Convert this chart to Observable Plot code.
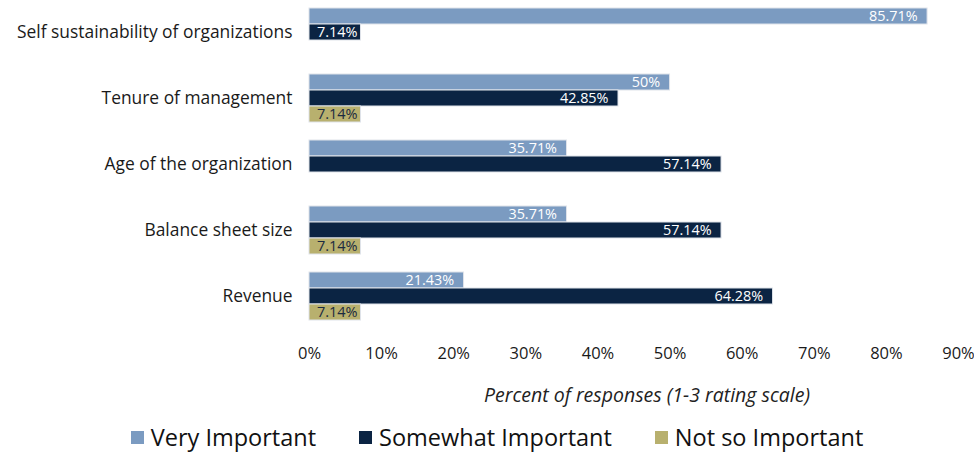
<!DOCTYPE html>
<html>
<head>
<meta charset="utf-8">
<script src="https://cdn.jsdelivr.net/npm/d3@7"></script>
<script src="https://cdn.jsdelivr.net/npm/@observablehq/plot@0.6"></script>
<style>
  html, body { margin: 0; padding: 0; background: #fff; }
  body { width: 974px; height: 452px; overflow: hidden; font-family: "Open Sans", sans-serif; color: #1a1a1a; }
  #axis-title { font-style: italic; font-size: 19.5px; line-height: 26px; height: 26px; padding-left: 320px; text-align: center; color: #222; margin-top: 10px; }
  #legend { display: flex; justify-content: center; align-items: center; gap: 43px; font-size: 23.5px; line-height: 30px; margin-top: 14px; padding-left: 20px; color: #111; }
  #legend .item { display: flex; align-items: center; }
  #legend .sw { width: 13px; height: 13px; margin-right: 7px; display: inline-block; }
</style>
</head>
<body>
<div id="chart"></div>
<div id="axis-title"></div>
<div id="legend"></div>
<script>
const categories = [
  "Self sustainability of organizations",
  "Tenure of management",
  "Age of the organization",
  "Balance sheet size",
  "Revenue"
];
const seriesNames = ["Very Important", "Somewhat Important", "Not so Important"];
const seriesColors = ["#7b9bc1", "#0b2443", "#b8b06e"];
const veryImportant = [85.71, 50, 35.71, 35.71, 21.43];
const somewhatImportant = [7.14, 42.85, 57.14, 57.14, 64.28];
const notSoImportant = [null, 7.14, null, 7.14, 7.14];
const xTicks = [0, 10, 20, 30, 40, 50, 60, 70, 80, 90];
const axisTitle = "Percent of responses (1-3 rating scale)";

const seriesValues = [veryImportant, somewhatImportant, notSoImportant];
const rows = [];
categories.forEach((c, i) => {
  seriesNames.forEach((s, j) => {
    const v = seriesValues[j][i];
    if (v != null) rows.push({category: c, series: s, value: v});
  });
});
const fmt = d => d.value + "%";

const chart = Plot.plot({
  width: 974,
  height: 372,
  marginLeft: 309,
  marginRight: 16,
  marginTop: 5,
  marginBottom: 49,
  style: {fontFamily: "'Open Sans', sans-serif", color: "#1a1a1a", background: "#fff"},
  x: {domain: [0, 90], axis: null},
  fy: {domain: categories, paddingInner: 0.236, paddingOuter: 0, axis: null},
  y: {domain: seriesNames, padding: 0, axis: null},
  color: {domain: seriesNames, range: seriesColors},
  marks: [
    Plot.axisFy({anchor: "left", tickSize: 0, tickPadding: 17, fontSize: 17.4, label: null}),
    Plot.axisX({anchor: "bottom", ticks: xTicks, tickFormat: d => d + "%", tickSize: 0, tickPadding: 26, fontSize: 16.5, label: null}),
    Plot.barX(rows, {fy: "category", y: "series", x: "value", fill: "series", stroke: "#dfe3ea", strokeWidth: 1}),
    Plot.text(rows.filter(d => d.value >= 10), {fy: "category", y: "series", x: "value", text: fmt, textAnchor: "end", dx: -10, fill: "#ffffff", fontSize: 14.4}),
    Plot.text(rows.filter(d => d.value < 10 && d.series !== "Not so Important"), {fy: "category", y: "series", x: d => d.value / 2, text: fmt, fill: "#ffffff", fontSize: 14.5, dx: 2}),
    Plot.text(rows.filter(d => d.value < 10 && d.series === "Not so Important"), {fy: "category", y: "series", x: d => d.value / 2, text: fmt, fill: "#1b2a40", fontSize: 14.5, dx: 2})
  ]
});
document.getElementById("chart").appendChild(chart);
document.getElementById("axis-title").textContent = axisTitle;

const legend = document.getElementById("legend");
seriesNames.forEach((s, i) => {
  const item = document.createElement("div");
  item.className = "item";
  const sw = document.createElement("span");
  sw.className = "sw";
  sw.style.background = seriesColors[i];
  const t = document.createElement("span");
  t.textContent = s;
  item.appendChild(sw);
  item.appendChild(t);
  legend.appendChild(item);
});
</script>
</body>
</html>
